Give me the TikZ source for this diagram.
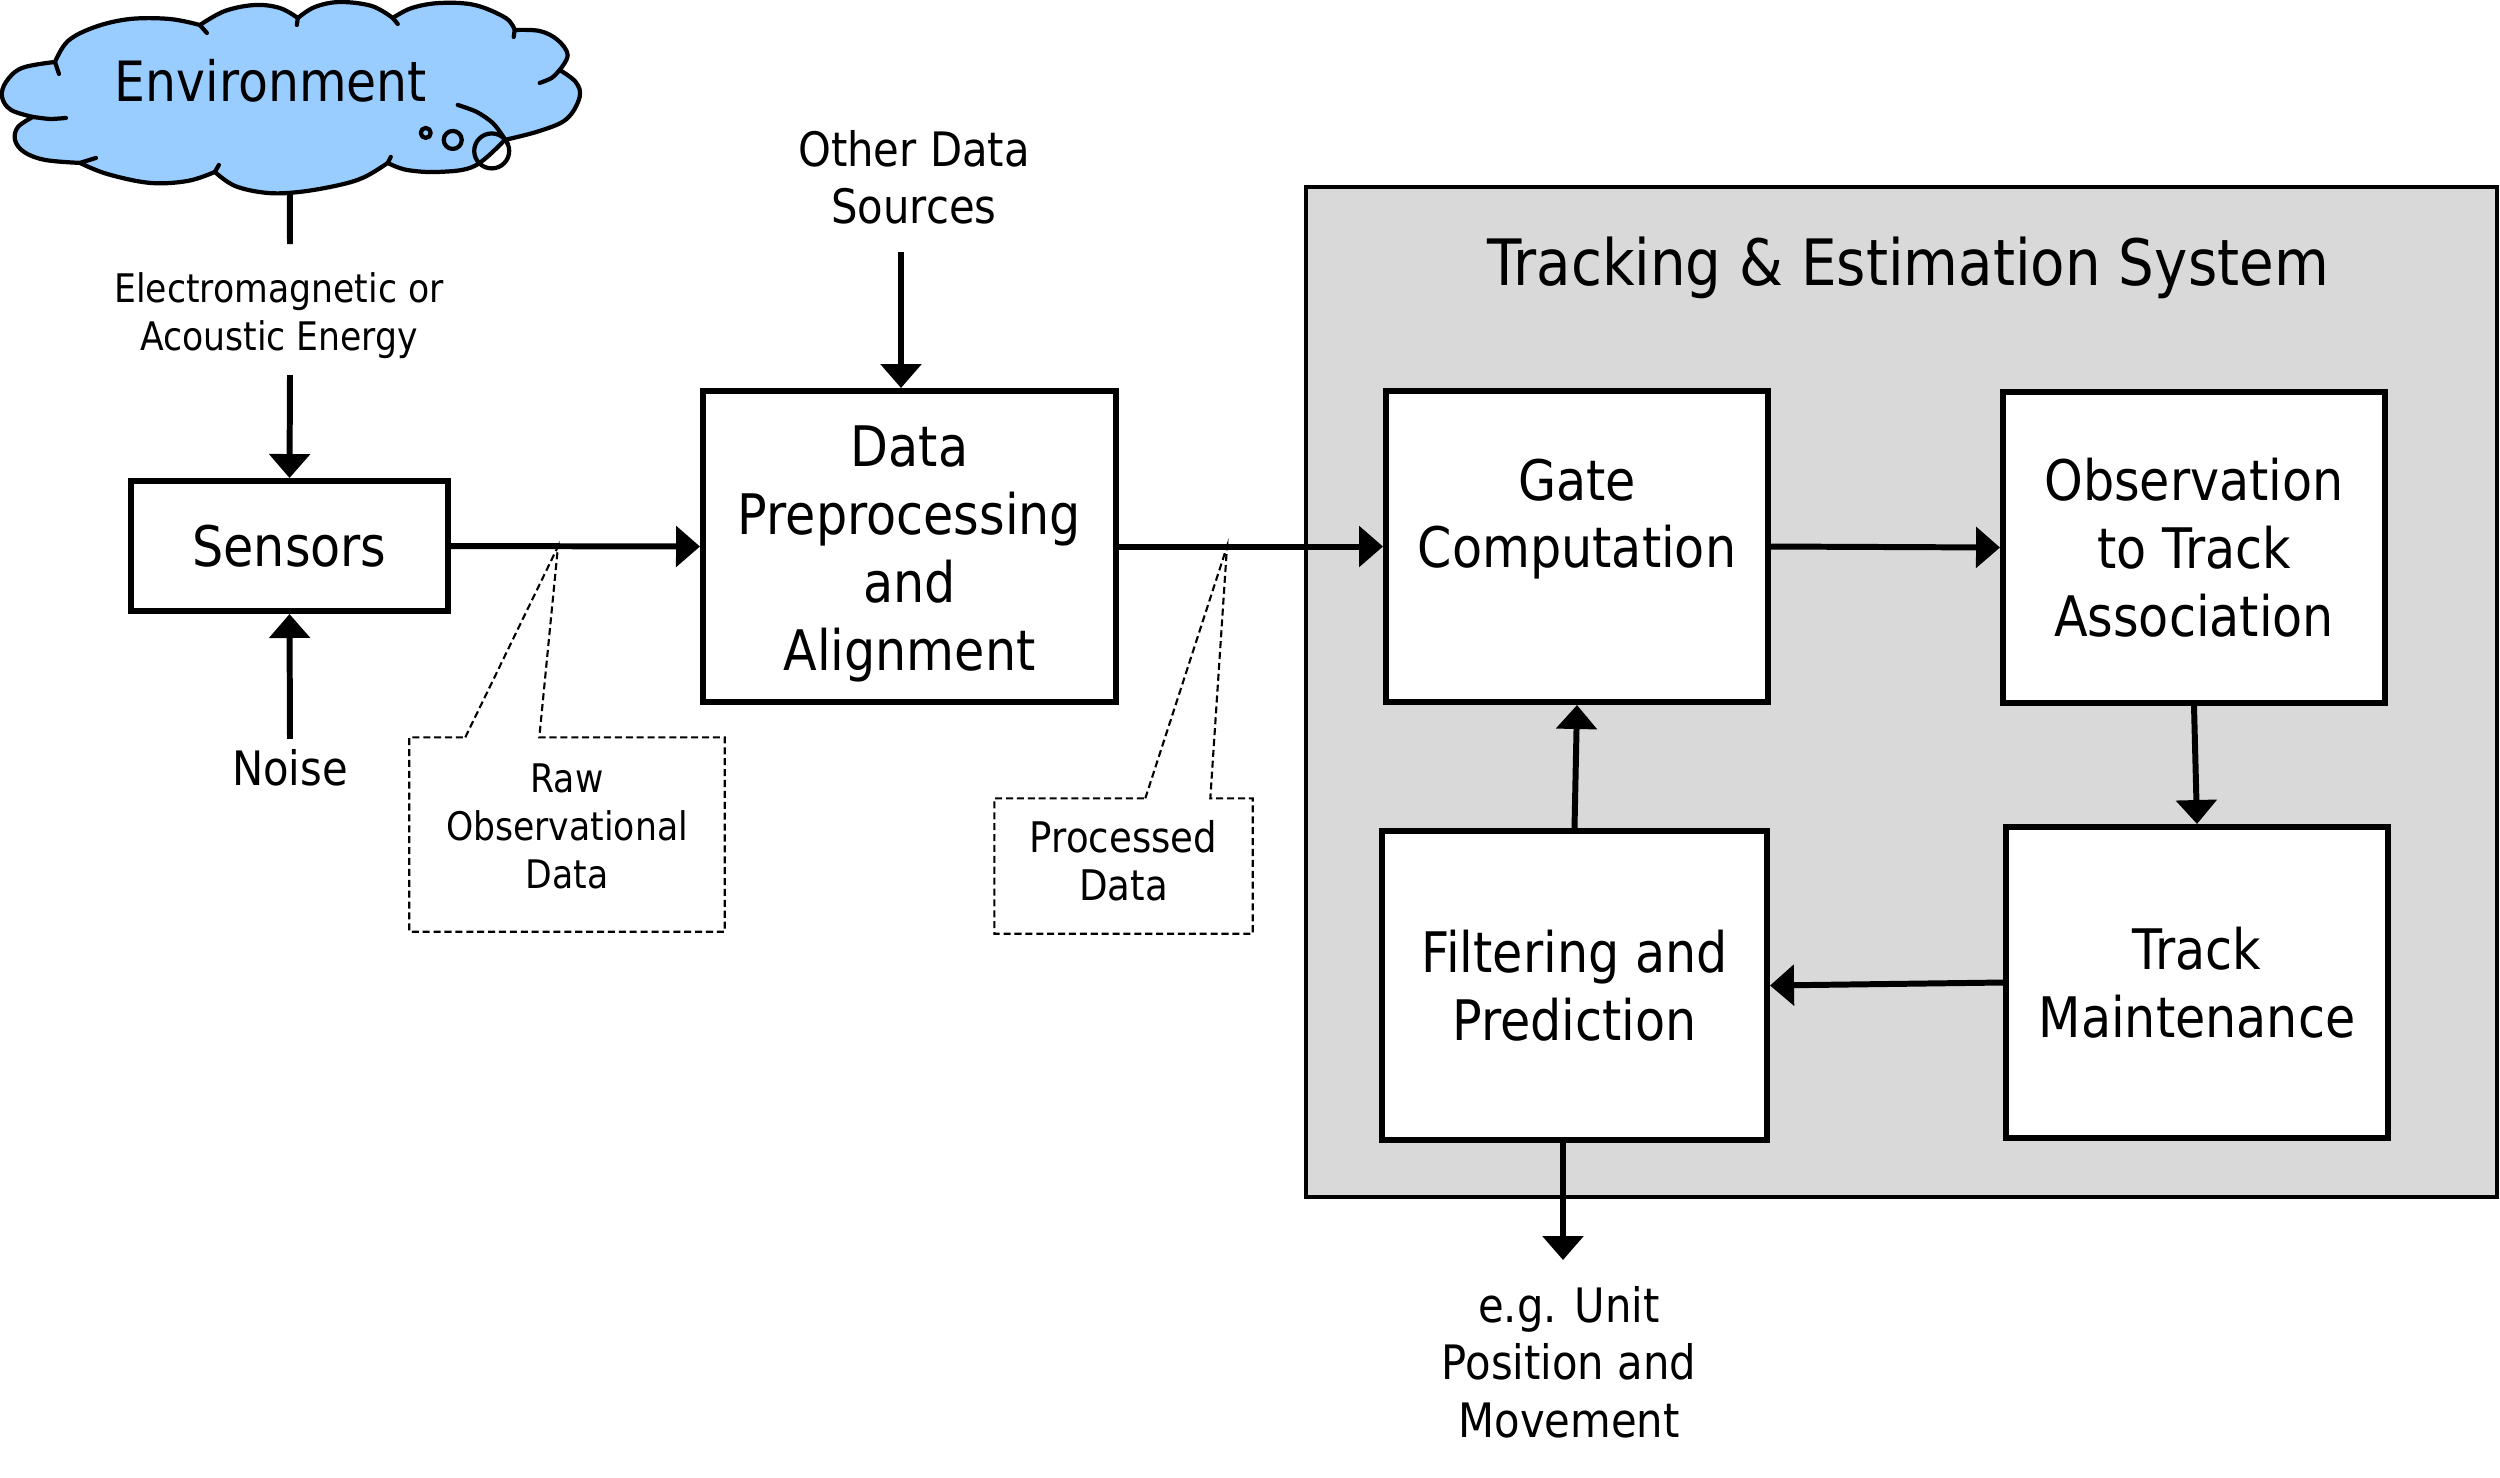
\documentclass[tikz,border=0pt]{standalone}
\usepackage{fontspec}
\setmainfont{DejaVu Sans}[FakeStretch=0.88]
\usetikzlibrary{arrows.meta,calc}
\definecolor{cloudblue}{RGB}{153,204,255}
\definecolor{sysgray}{RGB}{217,217,217}
\begin{document}
\begin{tikzpicture}[
  box/.style={draw, line width=1.7pt, fill=white, align=center, inner sep=0pt, font=\fontsize{15.9}{19.3}\selectfont},
  arr/.style={line width=1.7pt, -{Triangle[length=0.24cm,width=0.40cm]}},
  plainline/.style={line width=1.7pt},
  cloudline/.style={line width=1.2pt, line join=round, line cap=round},
  callout/.style={line width=0.6pt, dash pattern=on 2pt off 1.1pt},
  callbox/.style={inner sep=0pt},
  smalltext/.style={align=center, inner sep=0pt, font=\fontsize{11.2}{13.6}\selectfont},
  midtext/.style={align=center, inner sep=0pt, font=\fontsize{13.5}{16.3}\selectfont}
]
\useasboundingbox (0,0) rectangle (25,-14.77);

% ---------- cloud (drawn directly, pixel units) ----------
\begin{scope}[x=0.01cm, y=-0.01cm]
\filldraw[cloudline, fill=cloudblue]
  plot[smooth, tension=0.6] coordinates {(200,25) (170,19) (130,19) (95,27) (68,41) (55,62)}
  -- plot[smooth, tension=0.6] coordinates {(55,62) (22,68) (6,82) (2,97) (11,110) (33,117)}
  -- plot[smooth, tension=0.6] coordinates {(33,117) (18,127) (15,140) (24,152) (45,160) (80,163)}
  -- plot[smooth, tension=0.6] coordinates {(80,163) (107,174) (150,183) (188,181) (215,172)}
  -- plot[smooth, tension=0.6] coordinates {(215,172) (235,186) (267,193) (300,192) (340,185) (365,177) (388,163)}
  -- plot[smooth, tension=0.6] coordinates {(388,163) (407,170) (440,172) (475,166) (505,140)}
  -- plot[smooth, tension=0.6] coordinates {(505,140) (540,131) (567,119) (580,97) (576,82) (560,70)}
  -- plot[smooth, tension=0.6] coordinates {(560,70) (568,55) (558,40) (540,31) (515,30)}
  -- plot[smooth, tension=0.6] coordinates {(515,30) (506,18) (475,5) (440,3) (412,8) (393,18)}
  -- plot[smooth, tension=0.6] coordinates {(393,18) (372,6) (340,2) (315,7) (298,18)}
  -- plot[smooth, tension=0.6] coordinates {(298,18) (280,8) (255,5) (225,11) (200,25)}
  -- cycle;
% inner ticks of the cloud
\draw[cloudline] (55,62) -- (59,74);
\draw[cloudline] plot[smooth] coordinates {(33,117) (50,119) (66,118)};
\draw[cloudline] (80,163) -- (96,158);
\draw[cloudline] (215,172) -- (219,165);
\draw[cloudline] (388,163) -- (391,157);
\draw[cloudline] plot[smooth] coordinates {(560,70) (552,78) (540,83)};
\draw[cloudline] (515,30) -- (514,37);
\draw[cloudline] (393,18) -- (398,24);
\draw[cloudline] (298,18) -- (297,25);
\draw[cloudline] (200,25) -- (207,33);
% thought bubbles
\draw[cloudline] (426,133) circle (5);
\draw[cloudline] (453,140) circle (9);
\draw[cloudline] (492,151) circle (17.5);
\draw[cloudline] plot[smooth] coordinates {(458,105) (477,112) (493,123) (503,136) (508,144)};
\node[anchor=base, inner sep=0pt, font=\fontsize{15.8}{19}\selectfont] (envtxt) at (271,102) {Environment};
\coordinate (envbottom) at (290,192);
\end{scope}

% ---------- left part ----------
\node[box, minimum width=3.17cm, minimum height=1.30cm] (sensors) at (2.895,-5.46) {Sensors};
\node[smalltext] (em) at (2.79,-3.155) {Electromagnetic or\\Acoustic Energy};
\coordinate (emtop) at (2.90,-2.44);
\coordinate (embot) at (2.90,-3.75);
\draw[plainline] (envbottom) -- (emtop);
\draw[arr] (embot) -- (sensors.north);

\node[midtext] (noise) at (2.90,-7.68) {Noise};
\draw[arr] ([yshift=0.10cm]noise.north) -- (sensors.south);

\node[box, minimum width=4.13cm, minimum height=3.11cm] (data) at (9.095,-5.465) {\rule{0pt}{15.7pt}Data\\Preprocessing\\and\\Alignment};
\node[midtext] (other) at (9.14,-1.77) {Other Data\\Sources};
\coordinate (othbot) at (9.01,-2.52);
\draw[arr] (othbot) -- (othbot |- data.north);

% ---------- tracking system ----------
\node[draw, fill=sysgray, line width=1.2pt, minimum width=11.91cm, minimum height=10.10cm, inner sep=0pt] (sys) at (19.015,-6.92) {};
\node[inner sep=0pt, font=\fontsize{18.2}{21}\selectfont] (title) at (19.08,-2.68) {Tracking \& Estimation System};

\node[box, minimum width=3.82cm, minimum height=3.11cm] (gate) at (15.77,-5.465) {Gate\\Computation\\[-6.2pt]\strut};
\node[box, minimum width=3.82cm, minimum height=3.11cm] (obs) at (21.94,-5.475) {Observation\\to Track\\Association};
\node[box, minimum width=3.85cm, minimum height=3.09cm] (filter) at (15.745,-9.855) {Filtering and\\Prediction};
\node[box, minimum width=3.82cm, minimum height=3.11cm] (track) at (21.97,-9.825) {Track\\Maintenance};

\draw[arr] (sensors.east) -- (data.west);
\draw[arr] (data.east) -- (gate.west);
\draw[arr] (gate.east) -- (obs.west);
\draw[arr] (obs.south) -- (track.north);
\draw[arr] (track.west) -- (filter.east);
\draw[arr] (filter.north) -- (gate.south);

\coordinate (outend) at (15.63,-12.60);
\draw[arr] (filter.south -| outend) -- (outend);
\node[midtext] (out) at (15.69,-13.62) {e.g. Unit\\Position and\\Movement};

% ---------- callouts ----------
\node[callbox, minimum width=3.14cm, minimum height=1.93cm] (rawbox) at (5.67,-8.345) {};
\node[smalltext] (raw) at (5.67,-8.265) {Raw\\Observational\\Data};
\coordinate (rawtip) at (5.58,-5.465);
\draw[callout] ($(rawbox.north west)+(0.56,0)$) -- (rawtip) -- ($(rawbox.north west)+(1.30,0)$)
  -- (rawbox.north east) -- (rawbox.south east) -- (rawbox.south west) -- (rawbox.north west) -- cycle;

\node[callbox, minimum width=2.57cm, minimum height=1.34cm] (procbox) at (11.235,-8.66) {};
\node[smalltext, font=\fontsize{12}{13.6}\selectfont] (proc) at (11.235,-8.61) {Processed\\Data};
\coordinate (proctip) at (12.27,-5.465);
\draw[callout] ($(procbox.north west)+(1.51,0)$) -- (proctip) -- ($(procbox.north west)+(2.16,0)$)
  -- (procbox.north east) -- (procbox.south east) -- (procbox.south west) -- (procbox.north west) -- cycle;
\end{tikzpicture}
\end{document}
